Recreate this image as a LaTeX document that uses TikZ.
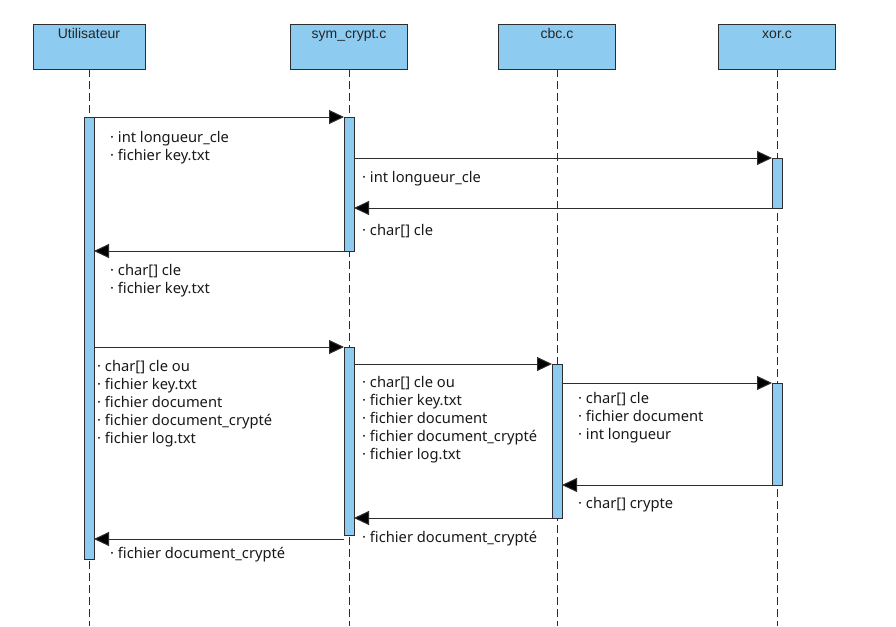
\documentclass[tikz,border=0pt]{standalone}
\usepackage{fontspec}
\setmainfont{Noto Sans}
\newfontfamily\hdrfont{Liberation Sans}
\usetikzlibrary{arrows.meta}
\definecolor{lblue}{RGB}{142,203,240}
\definecolor{edge}{RGB}{45,45,45}
\begin{document}
\begin{tikzpicture}[x=1pt,y=-1pt,
  hdr/.style={draw=edge, fill=lblue, line width=1pt, minimum height=44pt, minimum width=117pt, inner sep=0pt, outer sep=0pt},
  hdrtxt/.style={anchor=base, inner sep=0pt, font=\hdrfont\fontsize{14}{16}\selectfont, text=black!85},
  act/.style={draw=edge, fill=lblue, line width=1pt, minimum width=10pt, inner sep=0pt, outer sep=0pt},
  life/.style={draw=edge, line width=1pt, dash pattern=on 8pt off 4pt},
  msg/.style={draw=edge, line width=1pt, -{Triangle[length=15pt,width=14pt,fill=black]}},
  lbl/.style={anchor=base west, inner sep=0pt, font=\fontsize{14.7}{18}\selectfont, text=black!90}]
\useasboundingbox (0,0) rectangle (896,626);
\coordinate (bot) at (0,626);

% headers
\node[hdr, minimum width=112pt] (hU) at (89,47) {};
\node[hdr] (hS) at (349,47) {};
\node[hdr] (hC) at (557,47) {};
\node[hdr] (hX) at (777,47) {};
\node[hdrtxt] (tU) at (89,39) {Utilisateur};
\node[hdrtxt] (tS) at (349,39) {sym\_crypt.c};
\node[hdrtxt] (tC) at (557,39) {cbc.c};
\node[hdrtxt] (tX) at (777,39) {xor.c};

% lifelines
\draw[life] (hU.south) -- (hU.south |- bot);
\draw[life] (hS.south) -- (hS.south |- bot);
\draw[life] (hC.south) -- (hC.south |- bot);
\draw[life] (hX.south) -- (hX.south |- bot);

% activation bars
\node[act, minimum height=442pt] (ua) at (89,338) {};
\node[act, minimum height=134pt] (sa1) at (349,184) {};
\node[act, minimum height=50pt] (xa1) at (777,183) {};
\node[act, minimum height=188pt] (sa2) at (349,441) {};
\node[act, minimum height=154pt] (ca) at (557,441) {};
\node[act, minimum height=102pt] (xa2) at (777,434) {};

% messages
\draw[msg] (ua.north east) -- (sa1.north west);
\draw[msg] (sa1.east |- xa1.north) -- (xa1.north west);
\draw[msg] (xa1.south west) -- (sa1.east |- xa1.south);
\draw[msg] (sa1.south west) -- (ua.east |- sa1.south);
\draw[msg] (ua.east |- sa2.north) -- (sa2.north west);
\draw[msg] (sa2.east |- ca.north) -- (ca.north west);
\draw[msg] (ca.east |- xa2.north) -- (xa2.north west);
\draw[msg] (xa2.south west) -- (ca.east |- xa2.south);
\draw[msg] (ca.south west) -- (sa2.east |- ca.south);
\coordinate (a10) at ([yshift=-4pt]sa2.south west);
\draw[msg] (a10) -- (ua.east |- a10);

% labels
\node[lbl] (l1) at (110,142) {\vtop{\hbox{· int longueur\_cle}\hbox{· fichier key.txt}}};
\node[lbl] (l2) at (362,182) {· int longueur\_cle};
\node[lbl] (l3) at (362,235) {· char[] cle};
\node[lbl] (l4) at (110,275) {\vtop{\hbox{· char[] cle}\hbox{· fichier key.txt}}};
\node[lbl] (l5) at (97,371) {\vtop{\hbox{· char[] cle ou}\hbox{· fichier key.txt}\hbox{· fichier document}\hbox{· fichier document\_crypté}\hbox{· fichier log.txt}}};
\node[lbl] (l6) at (362,387) {\vtop{\hbox{· char[] cle ou}\hbox{· fichier key.txt}\hbox{· fichier document}\hbox{· fichier document\_crypté}\hbox{· fichier log.txt}}};
\node[lbl] (l7) at (578,403) {\vtop{\hbox{· char[] cle}\hbox{· fichier document}\hbox{· int longueur}}};
\node[lbl] (l8) at (578,508) {· char[] crypte};
\node[lbl] (l9) at (362,542) {· fichier document\_crypté};
\node[lbl] (l10) at (110,558) {· fichier document\_crypté};
\end{tikzpicture}
\end{document}
